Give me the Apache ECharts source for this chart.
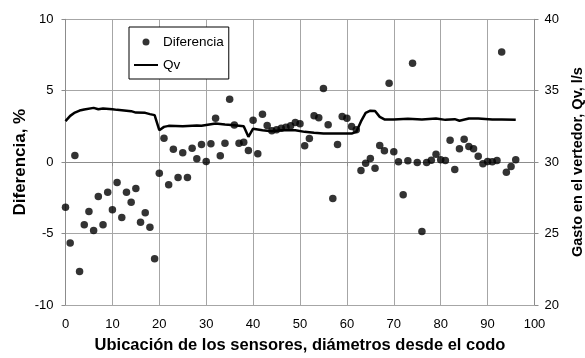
<!DOCTYPE html>
<html>
<head>
<meta charset="utf-8">
<script src="https://cdn.jsdelivr.net/npm/echarts@6/dist/echarts.min.js"></script>
<style>
  html, body { margin: 0; padding: 0; background: #fff; }
  #chart { width: 585px; height: 358px; }
</style>
</head>
<body>
<div id="chart"></div>
<script>
// posición de cada sensor (diámetros desde el codo)
const sensorPos = [0, 1, 2, 3, 4, 5, 6, 7, 8, 9, 10, 11, 12, 13, 14, 15, 16, 17, 18, 19,
  20, 21, 22, 23, 24, 25, 26, 27, 28, 29, 30, 31, 32, 33, 34, 35, 36, 37, 38, 39,
  40, 41, 42, 43, 44, 45, 46, 47, 48, 49, 50, 51, 52, 53, 54, 55, 56, 57, 58, 59,
  60, 61, 62, 63, 64, 65, 66, 67, 68, 69, 70, 71, 72, 73, 74, 75, 76, 77, 78, 79,
  80, 81, 82, 83, 84, 85, 86, 87, 88, 89, 90, 91, 92, 93, 94, 95, 96]

// diferencia en %
const diferencia = [-3.15, -5.66, 0.46, -7.65, -4.38, -3.45, -4.78, -2.4, -4.38, -2.1,
  -3.33, -1.42, -3.87, -2.1, -2.8, -1.84, -4.2, -3.55, -4.55, -6.76,
  -0.77, 1.68, -1.59, 0.91, -1.08, 0.65, -1.08, 0.98, 0.23, 1.23,
  0.04, 1.28, 3.08, 0.44, 1.33, 4.4, 2.6, 1.33, 1.4, 0.81,
  2.93, 0.58, 3.35, 2.56, 2.19, 2.26, 2.38, 2.45, 2.55, 2.77,
  2.68, 1.14, 1.65, 3.24, 3.1, 5.15, 2.62, -2.54, 1.24, 3.19,
  3.08, 2.49, 2.26, -0.59, -0.07, 0.25, -0.42, 1.16, 0.79, 5.52,
  0.72, 0.02, -2.29, 0.09, 6.92, -0.03, -4.85, -0.03, 0.14, 0.56,
  0.16, 0.11, 1.54, -0.52, 0.93, 1.61, 1.09, 0.93, 0.42, -0.12,
  0.04, 0.02, 0.11, 7.71, -0.7, -0.31, 0.16]

// gasto en el vertedor, l/s
const qvPos = [0, 1, 2, 3, 4, 6, 7, 8, 10, 11, 12, 14, 15, 17, 18, 19, 20, 21, 22, 25,
  28, 29, 31, 32, 34, 36, 38, 39, 40, 42, 44, 46, 49, 51, 53, 55, 58, 61, 62, 63,
  64, 65, 66, 67, 68, 70, 73, 76, 79, 81, 83, 84, 86, 88, 91, 93, 96]
const qv = [32.87, 33.24, 33.47, 33.61, 33.68, 33.8, 33.7, 33.75, 33.7, 33.66, 33.64, 33.57, 33.47, 33.45, 33.36, 33.29, 32.24, 32.47, 32.54, 32.52,
  32.57, 32.55, 32.65, 32.7, 32.63, 32.59, 32.52, 31.77, 32.34, 32.24, 32.17, 32.24, 32.24, 32.12, 32.05, 32.0, 32.0, 32.0, 32.12, 32.85,
  33.45, 33.6, 33.58, 33.17, 32.99, 32.99, 33.03, 32.99, 33.05, 32.96, 33.01, 32.9, 33.05, 33.05, 32.99, 32.99, 32.96]

const font = "'Liberation Sans', Arial, sans-serif"
const gridColor = '#a6a6a6'
const axisColor = '#8c8c8c'

const chart = echarts.init(document.getElementById('chart'))

chart.setOption({
  animation: false,
  textStyle: { fontFamily: font, color: '#000' },
  grid: { left: 65.5, right: 50.5, top: 19.3, bottom: 53, containLabel: false, outerBoundsMode: 'none' },
  legend: {
    orient: 'vertical',
    left: 129,
    top: 27,
    padding: [8, 5, 7, 4],
    itemWidth: 24,
    itemHeight: 7,
    itemGap: 9,
    backgroundColor: '#fff',
    borderColor: '#000',
    borderWidth: 1,
    borderRadius: 0,
    textStyle: { fontFamily: font, fontSize: 13.5, color: '#000' },
    data: [
      { name: 'Diferencia', icon: 'circle' },
      { name: 'Qv', itemStyle: { opacity: 0 } }
    ]
  },
  xAxis: {
    type: 'value',
    min: 0,
    max: 100,
    interval: 10,
    name: 'Ubicación de los sensores, diámetros desde el codo',
    nameLocation: 'middle',
    nameGap: 32,
    nameTextStyle: { fontFamily: font, fontSize: 16.5, fontWeight: 'bold', color: '#000' },
    axisLine: { lineStyle: { color: axisColor, width: 1 } },
    axisTick: { show: true, length: 4, lineStyle: { color: axisColor } },
    axisLabel: { fontSize: 13, color: '#000', margin: 13 },
    splitLine: { show: true, lineStyle: { color: gridColor, width: 1 } }
  },
  yAxis: [
    {
      type: 'value',
      min: -10,
      max: 10,
      interval: 5,
      position: 'left',
      name: 'Diferencia, %',
      nameLocation: 'middle',
      nameGap: 37,
      nameMoveOverlap: false,
      nameTextStyle: { fontFamily: font, fontSize: 17, fontWeight: 'bold', color: '#000' },
      axisLine: { show: true, lineStyle: { color: axisColor, width: 1 } },
      axisTick: { show: true, length: 4, lineStyle: { color: axisColor } },
      axisLabel: { fontSize: 13, color: '#000', margin: 12 },
      splitLine: { show: true, lineStyle: { color: gridColor, width: 1 } }
    },
    {
      type: 'value',
      min: 20,
      max: 40,
      interval: 5,
      position: 'right',
      name: 'Gasto en el vertedor, Qv, l/s',
      nameLocation: 'middle',
      nameGap: 36,
      nameTextStyle: { fontFamily: font, fontSize: 14.5, fontWeight: 'bold', color: '#000' },
      axisLine: { show: true, lineStyle: { color: axisColor, width: 1 } },
      axisTick: { show: true, length: 4, lineStyle: { color: axisColor } },
      axisLabel: { fontSize: 13, color: '#000', margin: 10 },
      splitLine: { show: false }
    }
  ],
  series: [
    {
      name: 'Diferencia',
      type: 'scatter',
      yAxisIndex: 0,
      symbol: 'circle',
      symbolSize: 7.5,
      itemStyle: { color: '#000' },
      data: sensorPos.map((x, i) => [x, diferencia[i]]),
      z: 3
    },
    {
      name: 'Qv',
      type: 'line',
      yAxisIndex: 1,
      symbol: 'none',
      lineStyle: { color: '#000', width: 2.5 },
      itemStyle: { color: '#000' },
      data: qvPos.map((x, i) => [x, qv[i]]),
      z: 2
    }
  ]
})
</script>
</body>
</html>
